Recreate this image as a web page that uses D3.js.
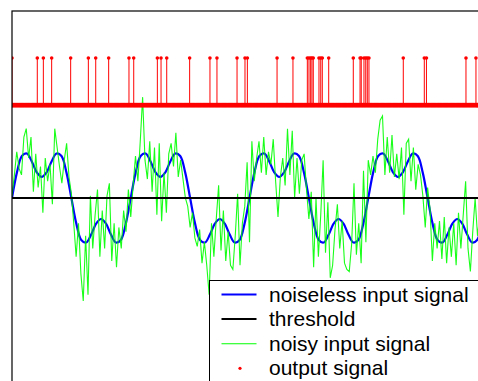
<!DOCTYPE html>
<html>
<head>
<meta charset="utf-8">
<script src="https://cdn.jsdelivr.net/npm/d3@7"></script>
<style>
  html, body { margin: 0; padding: 0; background: #fff; }
  svg { display: block; }
  text { font-family: Arial, "Liberation Sans", sans-serif; }
</style>
</head>
<body>
<script>
// Noiseless input: sin(wt) + 0.5 sin(3wt), sampled 24 times per period over 4 periods
const noiselessStep = 1 / 24;
const noiseless = [
  0, 0.61, 1.0, 1.06, 0.87, 0.61, 0.5, 0.61, 0.87, 1.06, 1.0, 0.61,
  0, -0.61, -1.0, -1.06, -0.87, -0.61, -0.5, -0.61, -0.87, -1.06, -1.0, -0.61,
  0, 0.61, 1.0, 1.06, 0.87, 0.61, 0.5, 0.61, 0.87, 1.06, 1.0, 0.61,
  0, -0.61, -1.0, -1.06, -0.87, -0.61, -0.5, -0.61, -0.87, -1.06, -1.0, -0.61,
  0, 0.61, 1.0, 1.06, 0.87, 0.61, 0.5, 0.61, 0.87, 1.06, 1.0, 0.61,
  0, -0.61, -1.0, -1.06, -0.87, -0.61, -0.5, -0.61, -0.87, -1.06, -1.0, -0.61,
  0, 0.61, 1.0, 1.06, 0.87, 0.61, 0.5, 0.61, 0.87, 1.06, 1.0, 0.61,
  0, -0.61, -1.0, -1.06, -0.87, -0.61, -0.5, -0.61, -0.87, -1.06, -1.0, -0.61,
  0
];

// Noisy input, 50 samples per period
const noisyStep = 1 / 50;
const noisy = [
  0.05, 0.55, 1.10, 0.70, 0.55, 1.45, 1.65, 0.95, 1.45, 0.15,
  1.05, 0.25, 0.75, -0.35, 0.95, 0.40, 0.80, -0.15, 1.65, 1.20,
  0.75, 0.35, 0.90, 1.30, 0.50, 0.10, -0.60, -1.40, -0.60, -1.80,
  -2.45, -0.90, -2.30, 0.05, -1.20, -0.40, 0.20, -1.40, -0.30, -1.20,
  0.05, 0.35, -1.50, -0.60, -1.65, -0.70, -1.20, -0.30, -0.80, 0.20,
  -0.45, 0.30, 1.00, 0.40, 1.35, 2.40, 0.90, 0.45, 1.35, 0.15,
  1.20, -0.40, 1.30, -0.55, 0.60, -0.35, 1.05, 1.30, 0.75, 1.55,
  0.50, 0.90, 0.45, 0.00, -0.20, -0.70, -0.35, -0.95, -1.15, -0.75,
  -1.55, -1.05, -1.60, -2.30, -0.60, -1.40, -0.50, 0.30, -1.25, -0.30,
  -1.50, -0.80, -1.60, -1.70, -0.90, 0.10, -1.60, -0.60, -0.20, 0.85,
  -1.05, 1.35, 0.40, 0.95, 1.35, 0.60, 1.45, 0.55, 1.10, 0.80,
  1.40, 0.40, -0.45, 0.50, 0.95, 0.30, 1.65, 0.55, 1.60, 0.00,
  0.95, 0.10, 0.90, 1.05, 0.20, -0.50, 0.15, -1.65, 0.00, -1.40,
  -0.40, 0.90, -1.30, -0.10, -1.90, -1.60, -0.75, -0.15, -1.20, -0.55,
  -1.55, -1.70, -1.75, -1.10, 0.35, -1.35, -0.60, -1.55, 0.65, -1.05,
  0.90, 0.55, 1.00, 0.60, 1.40, 1.85, 1.95, 0.55, 1.45, 0.60,
  1.50, 0.50, 1.05, 0.45, 1.20, -0.40, 1.30, 1.40, 0.40, 1.20,
  0.20, 0.80, 0.55, 0.05, -0.70, 0.25, -0.25, -1.50, -0.60, -1.20,
  -0.55, -1.45, -0.45, -1.55, -0.70, -1.40, -0.60, -1.60, -0.35, -1.20,
  -0.40, 0.40, -1.20, -1.75, -0.80, 0.00, -0.90, -0.40, -0.90, -0.40,
  0.20
];

const threshold = 0;

// Output signal: times (in periods) where the output fires
const outputSpikes = [
  0.000, 0.213, 0.264, 0.334, 0.494, 0.643, 0.705, 0.814, 0.985, 1.025,
  1.224, 1.255, 1.303, 1.496, 1.667, 1.726, 1.895, 1.962, 1.982, 2.232,
  2.366, 2.487, 2.501, 2.515, 2.526, 2.537, 2.585, 2.600, 2.613, 2.667,
  2.874, 2.931, 2.941, 2.964, 2.979, 2.992, 3.006, 3.295, 3.472, 3.490,
  3.823, 3.907
];
const outputStep = 1 / 100;
// Vertical levels of the output trace (low = 0, high = 1)
const outputLevels = [2.21, 3.33];

const legendLabels = ["noiseless input signal", "threshold", "noisy input signal", "output signal"];
const colors = { noiseless: "#0000ff", threshold: "#000000", noisy: "#00ff00", output: "#ff0000" };

const W = 478, H = 381;
const plot = { left: 12, top: 11, right: 487, bottom: 385 };

const x = d3.scaleLinear().domain([0, 4]).range([plot.left, plot.right]);
const y = d3.scaleLinear().domain([-4.45, 4.45]).range([plot.bottom, plot.top]);

const svg = d3.select("body").append("svg").attr("width", W).attr("height", H);

svg.append("defs").append("clipPath").attr("id", "plotclip")
  .append("rect").attr("x", plot.left).attr("y", plot.top)
  .attr("width", plot.right - plot.left).attr("height", plot.bottom - plot.top);

const g = svg.append("g").attr("clip-path", "url(#plotclip)");

// noiseless input
g.append("path")
  .datum(noiseless)
  .attr("fill", "none")
  .attr("stroke", colors.noiseless)
  .attr("stroke-width", 2.2)
  .attr("d", d3.line().curve(d3.curveCatmullRom.alpha(0.5))
    .x((d, i) => x(i * noiselessStep)).y(d => y(d)));

// noisy input, over the noiseless curve
g.append("path")
  .datum(noisy)
  .attr("fill", "none")
  .attr("stroke", colors.noisy)
  .attr("stroke-width", 1.1)
  .attr("stroke-opacity", 0.9)
  .attr("d", d3.line().x((d, i) => x(i * noisyStep)).y(d => y(d)));

// threshold
g.append("line")
  .attr("x1", x(0)).attr("x2", x(4))
  .attr("y1", y(threshold)).attr("y2", y(threshold))
  .attr("stroke", colors.threshold).attr("stroke-width", 2);

// output: zero samples as dots along the low level
const nOut = Math.round(4 / outputStep);
const outTimes = d3.range(nOut + 1).map(i => i * outputStep);
g.append("g").selectAll("circle")
  .data(outTimes)
  .join("circle")
  .attr("cx", d => x(d)).attr("cy", y(outputLevels[0])).attr("r", 2.3)
  .attr("fill", colors.output);

// output spikes: stems and markers
const spikes = g.append("g");
spikes.selectAll("line")
  .data(outputSpikes)
  .join("line")
  .attr("x1", d => x(d)).attr("x2", d => x(d))
  .attr("y1", y(outputLevels[0])).attr("y2", y(outputLevels[1]))
  .attr("stroke", colors.output).attr("stroke-width", 1);
spikes.selectAll("circle")
  .data(outputSpikes)
  .join("circle")
  .attr("cx", d => x(d)).attr("cy", y(outputLevels[1])).attr("r", 1.8)
  .attr("fill", colors.output);

// axes frame
svg.append("rect")
  .attr("x", plot.left).attr("y", plot.top)
  .attr("width", plot.right - plot.left).attr("height", plot.bottom - plot.top)
  .attr("fill", "none").attr("stroke", "#000").attr("stroke-width", 1.2);

// legend
const lg = svg.append("g").attr("transform", "translate(209.5,280.5)");
lg.append("rect").attr("x", 0).attr("y", 0).attr("width", 300).attr("height", 130)
  .attr("fill", "#fff").attr("stroke", "#000").attr("stroke-width", 1);
const keys = ["noiseless", "threshold", "noisy", "output"];
const rowY = i => 14 + i * 24.6;
legendLabels.forEach((label, i) => {
  const key = keys[i];
  const cy = rowY(i);
  if (key === "output") {
    lg.append("circle").attr("cx", 30.5).attr("cy", cy).attr("r", 1.6).attr("fill", colors.output);
  } else {
    lg.append("line").attr("x1", 12).attr("x2", 47).attr("y1", cy).attr("y2", cy)
      .attr("stroke", colors[key])
      .attr("stroke-width", key === "noisy" ? 1.1 : (key === "noiseless" ? 2.2 : 2));
  }
  lg.append("text").attr("x", 59.5).attr("y", cy + 7)
    .attr("font-size", 21).attr("fill", "#000").text(label);
});
</script>
</body>
</html>
